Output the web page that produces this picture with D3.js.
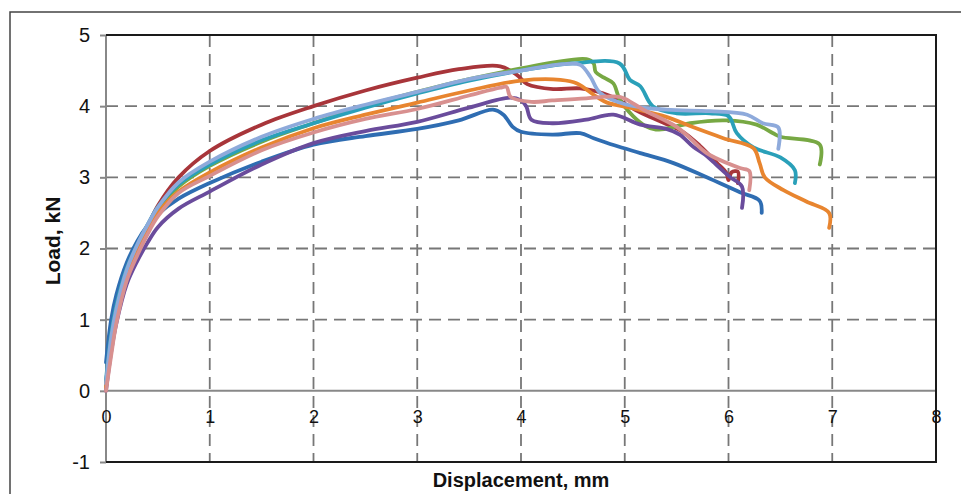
<!DOCTYPE html>
<html>
<head>
<meta charset="utf-8">
<script src="https://cdn.jsdelivr.net/npm/d3@7"></script>
<style>
  body { margin: 0; background: #fff; }
  svg { display: block; font-family: "Liberation Sans", Arial, sans-serif; }
</style>
</head>
<body>
<div id="chart"></div>
<script>
// tick values
let xTicks = [0, 1, 2, 3, 4, 5, 6, 7, 8];
let yTicks = [-1, 0, 1, 2, 3, 4, 5];

// series, [displacement mm, load kN]
let sBlue = [[0,0.4],[0.05,1.0],[0.1,1.35],[0.2,1.8],[0.3,2.1],[0.4,2.32],[0.5,2.48],[0.7,2.7],[1.0,2.92],[1.5,3.22],[2.0,3.46],[2.5,3.58],[3.0,3.68],[3.4,3.8],[3.73,3.95],[3.83,3.88],[3.92,3.71],[4.0,3.64],[4.3,3.6],[4.57,3.62],[4.7,3.55],[4.9,3.45],[5.15,3.34],[5.47,3.2],[5.79,3.0],[6.11,2.79],[6.3,2.67],[6.32,2.5]];
let sRed = [[0,0.1],[0.05,0.75],[0.1,1.15],[0.2,1.65],[0.3,1.97],[0.4,2.3],[0.5,2.6],[0.7,3.0],[1.0,3.37],[1.5,3.74],[2.0,4.0],[2.5,4.22],[3.0,4.4],[3.4,4.52],[3.8,4.56],[3.96,4.44],[4.06,4.31],[4.31,4.24],[4.57,4.25],[4.79,4.18],[4.92,4.1],[5.1,3.95],[5.24,3.85],[5.4,3.75],[5.56,3.64],[5.72,3.45],[5.89,3.2],[5.98,3.06],[6.0,2.96],[6.03,3.07],[6.09,3.08],[6.09,2.92]];
let sGreen = [[0,0.05],[0.05,0.7],[0.1,1.1],[0.2,1.65],[0.3,2.0],[0.4,2.3],[0.5,2.55],[0.7,2.87],[1.0,3.16],[1.5,3.5],[2.0,3.76],[2.5,4.0],[3.0,4.2],[3.5,4.38],[4.0,4.53],[4.3,4.61],[4.63,4.66],[4.7,4.6],[4.72,4.48],[4.8,4.4],[4.89,4.32],[4.95,4.1],[5.08,3.86],[5.2,3.72],[5.3,3.67],[5.45,3.7],[5.63,3.76],[5.98,3.8],[6.27,3.74],[6.43,3.62],[6.5,3.57],[6.88,3.46],[6.88,3.18]];
let sPurple = [[0,0.0],[0.05,0.55],[0.1,0.95],[0.2,1.5],[0.3,1.82],[0.4,2.08],[0.5,2.3],[0.7,2.56],[1.0,2.8],[1.5,3.18],[2.0,3.48],[2.5,3.65],[3.0,3.78],[3.5,3.98],[3.9,4.12],[4.0,4.08],[4.05,4.0],[4.1,3.81],[4.3,3.76],[4.63,3.81],[4.89,3.88],[5.15,3.74],[5.4,3.68],[5.53,3.6],[5.66,3.43],[5.79,3.3],[5.85,3.22],[6.01,3.01],[6.13,2.87],[6.13,2.57]];
let sTeal = [[0,0.15],[0.05,0.8],[0.1,1.2],[0.2,1.72],[0.3,2.05],[0.4,2.33],[0.5,2.58],[0.7,2.9],[1.0,3.18],[1.5,3.52],[2.0,3.76],[2.5,3.98],[3.0,4.18],[3.5,4.36],[4.0,4.5],[4.5,4.6],[4.95,4.6],[5.05,4.37],[5.15,4.28],[5.27,4.0],[5.5,3.9],[5.82,3.9],[6.0,3.86],[6.08,3.62],[6.24,3.42],[6.5,3.28],[6.64,3.1],[6.64,2.92]];
let sOrange = [[0,0.05],[0.05,0.65],[0.1,1.05],[0.2,1.6],[0.3,1.95],[0.4,2.25],[0.5,2.5],[0.7,2.8],[1.0,3.07],[1.5,3.42],[2.0,3.69],[2.5,3.88],[3.0,4.05],[3.5,4.22],[4.0,4.36],[4.38,4.37],[4.54,4.32],[4.73,4.13],[4.83,4.05],[5.08,3.97],[5.4,3.85],[5.63,3.72],[5.95,3.55],[6.24,3.41],[6.3,3.2],[6.35,3.0],[6.53,2.82],[6.75,2.66],[6.97,2.5],[6.97,2.29]];
let sLightBlue = [[0,0.1],[0.05,0.75],[0.1,1.15],[0.2,1.7],[0.3,2.05],[0.4,2.33],[0.5,2.58],[0.7,2.93],[1.0,3.22],[1.5,3.57],[2.0,3.82],[2.5,4.02],[3.0,4.2],[3.5,4.38],[4.0,4.5],[4.4,4.59],[4.57,4.58],[4.67,4.41],[4.76,4.19],[5.02,4.02],[5.4,3.95],[5.82,3.93],[6.18,3.88],[6.33,3.76],[6.48,3.7],[6.48,3.4]];
let sPink = [[0,0],[0.05,0.5],[0.1,0.95],[0.2,1.55],[0.3,1.9],[0.4,2.2],[0.5,2.45],[0.7,2.78],[1.0,3.02],[1.5,3.38],[2.0,3.63],[2.5,3.82],[3.0,3.96],[3.5,4.15],[3.8,4.26],[3.86,4.27],[3.9,4.13],[4.1,4.06],[4.3,4.08],[4.63,4.11],[4.95,4.13],[5.08,4.04],[5.18,3.95],[5.5,3.71],[5.63,3.55],[5.79,3.34],[6.11,3.13],[6.2,3.09],[6.2,2.82]];

let seriesList = [sBlue, sRed, sGreen, sPurple, sTeal, sOrange, sLightBlue, sPink];
let seriesColors = ['#2f6db2', '#a8353a', '#77a843', '#6a4c9c', '#2aa0b9', '#e8852f', '#8eaadb', '#d8908f'];

let chartW = 961, chartH = 494;
let plotL = 106, plotR = 936, plotT = 35, plotB = 462;

let svg = d3.select('#chart')
    .append('svg')
    .attr('width', chartW)
    .attr('height', chartH);

// outer frame
svg.append('rect')
    .attr('x', 10)
    .attr('y', 12)
    .attr('width', 1000)
    .attr('height', 1000)
    .attr('fill', 'none')
    .attr('stroke', '#444')
    .attr('stroke-width', 1.5);

let x = d3.scaleLinear().domain([0, 8]).range([plotL, plotR]);
let y = d3.scaleLinear().domain([-1, 5]).range([plotB, plotT]);

// dashed grid
svg.append('g').selectAll('line')
    .data(xTicks.filter(d => d > 0 && d < 8))
    .enter().append('line')
    .attr('x1', d => x(d)).attr('x2', d => x(d))
    .attr('y1', y(5)).attr('y2', y(-1))
    .attr('stroke', '#777')
    .attr('stroke-width', 1.8)
    .attr('stroke-dasharray', '12,7');
svg.append('g').selectAll('line')
    .data(yTicks.filter(d => d > 0 && d < 5))
    .enter().append('line')
    .attr('x1', x(0)).attr('x2', x(8))
    .attr('y1', d => y(d)).attr('y2', d => y(d))
    .attr('stroke', '#777')
    .attr('stroke-width', 1.8)
    .attr('stroke-dasharray', '12,7');

// axes lines
svg.append('line')
    .attr('x1', x(0)).attr('x2', x(8))
    .attr('y1', y(0)).attr('y2', y(0))
    .attr('stroke', '#888').attr('stroke-width', 2);
svg.append('line')
    .attr('x1', x(0)).attr('x2', x(0))
    .attr('y1', y(5)).attr('y2', y(-1))
    .attr('stroke', '#888').attr('stroke-width', 2);

// plot border top / right / bottom
svg.append('path')
    .attr('d', 'M' + x(0) + ',' + y(5) + 'L' + x(8) + ',' + y(5) + 'L' + x(8) + ',' + y(-1) + 'L' + x(0) + ',' + y(-1))
    .attr('fill', 'none')
    .attr('stroke', '#1a1a1a')
    .attr('stroke-width', 2);

// y axis
let yAxis = svg.append('g')
    .attr('transform', 'translate(' + x(0) + ',0)')
    .call(d3.axisLeft(y).tickValues(yTicks).tickSize(6).tickPadding(10).tickFormat(d => String(d)));
yAxis.select('.domain').remove();
yAxis.selectAll('line').attr('stroke', '#888').attr('stroke-width', 2);
yAxis.selectAll('text')
    .attr('font-size', 20)
    .attr('font-family', '"Liberation Sans", Arial, sans-serif')
    .attr('fill', '#111');

// x axis labels sit under the zero line
let xAxis = svg.append('g')
    .attr('transform', 'translate(0,' + y(0) + ')')
    .call(d3.axisBottom(x).tickValues(xTicks).tickSize(0).tickPadding(19).tickFormat(d => String(d)));
xAxis.select('.domain').remove();
xAxis.selectAll('text')
    .attr('font-size', 18)
    .attr('font-family', '"Liberation Sans", Arial, sans-serif')
    .attr('fill', '#111');

// curves
let line = d3.line()
    .x(d => x(d[0]))
    .y(d => y(d[1]))
    .curve(d3.curveCatmullRom.alpha(0.5));

seriesList.forEach(function (s, i) {
    svg.append('path')
        .attr('d', line(s))
        .attr('fill', 'none')
        .attr('stroke', seriesColors[i])
        .attr('stroke-width', 3.8)
        .attr('stroke-linejoin', 'round')
        .attr('stroke-linecap', 'round');
});

// axis titles
svg.append('text')
    .attr('x', (plotL + plotR) / 2)
    .attr('y', 487)
    .attr('text-anchor', 'middle')
    .attr('font-size', 20)
    .attr('font-weight', 'bold')
    .attr('fill', '#111')
    .text('Displacement, mm');

svg.append('text')
    .attr('transform', 'translate(60,241) rotate(-90)')
    .attr('text-anchor', 'middle')
    .attr('font-size', 21)
    .attr('font-weight', 'bold')
    .attr('fill', '#111')
    .text('Load, kN');
</script>
</body>
</html>
